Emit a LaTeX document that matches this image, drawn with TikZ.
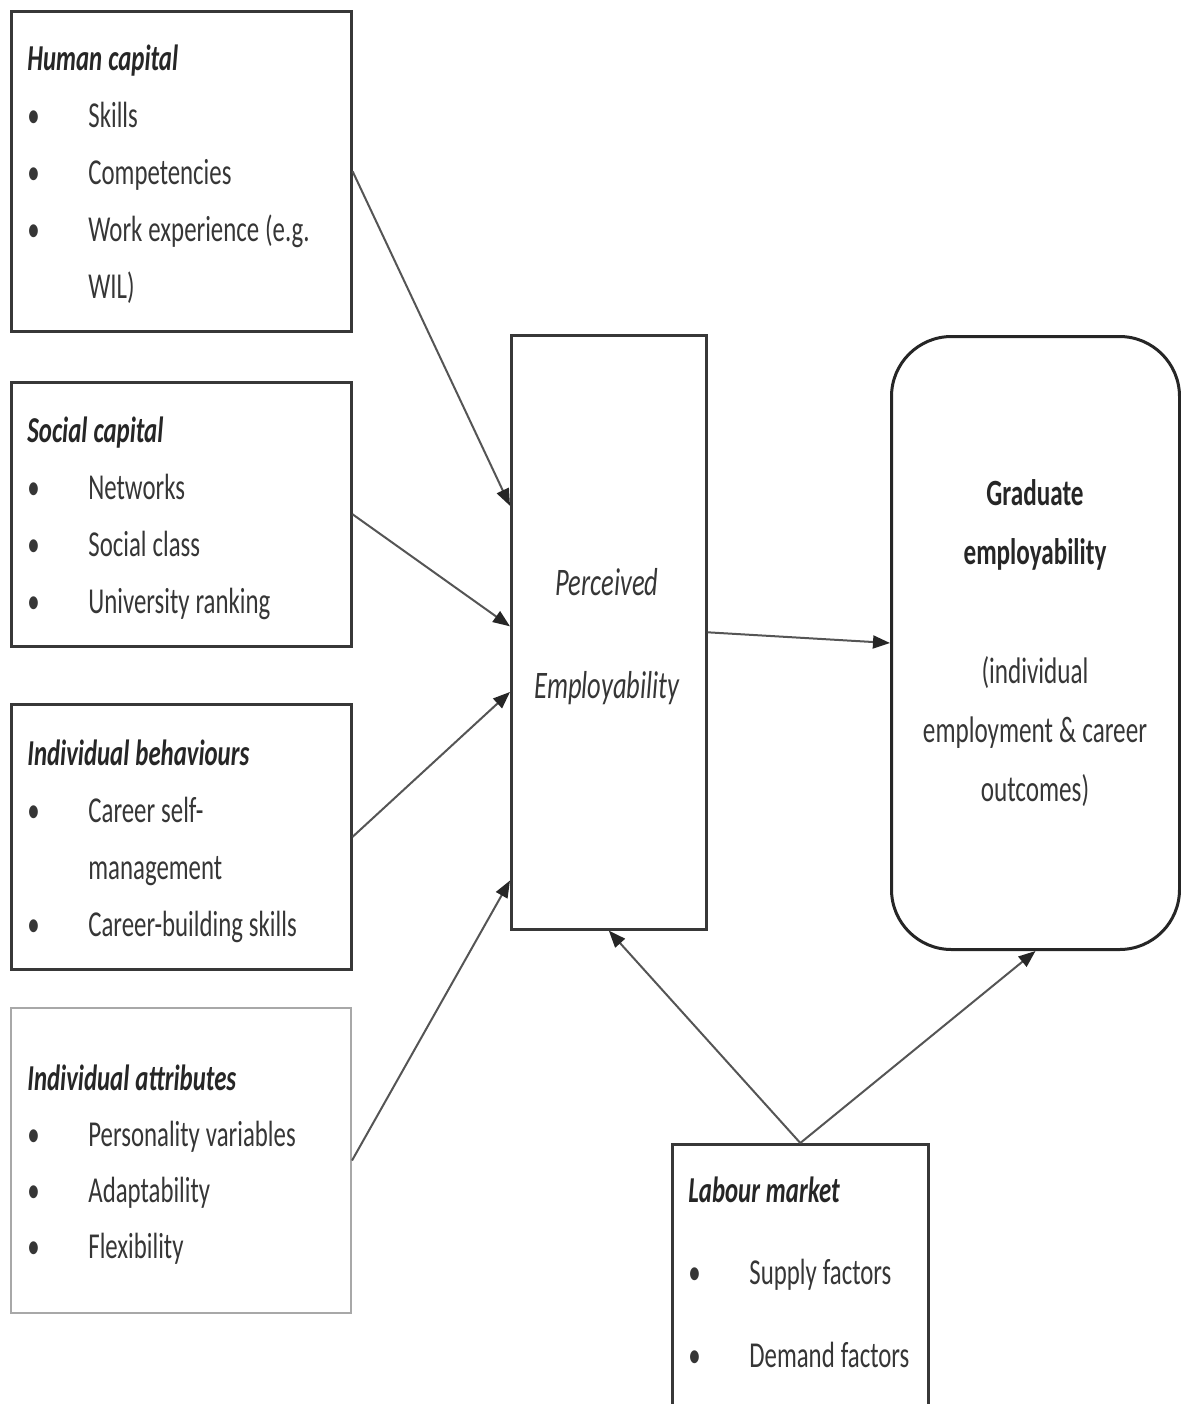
\documentclass[tikz,border=0pt]{standalone}
\usepackage{fontspec}
\setmainfont[FakeStretch=0.68]{Carlito}
\usepackage{xcolor}
\usetikzlibrary{calc, arrows.meta}
\definecolor{framegray}{HTML}{383838}
\definecolor{lightframe}{HTML}{A8A8A8}
\definecolor{textgray}{HTML}{363636}
\definecolor{linegray}{HTML}{555555}
\newcommand{\bitem}[1]{\makebox[30.5pt][l]{\textbullet}#1}
\newcommand{\bcont}[1]{\hspace*{30.5pt}#1}
\newcommand{\btitle}[1]{{\color{black!85}\bfseries\itshape #1}}
\newcommand{\narrow}{\spaceskip=3pt plus 1pt minus 0.5pt\relax}
\tikzset{
  fac_box/.style = {draw=framegray, line width=1.3pt, anchor=north west,
    inner sep=0pt, minimum width=170pt},% cadre des facteurs
  fac_txt/.style = {anchor=base west, inner sep=0pt, text width=160pt,
    align=flush left, text=textgray, font=\fontsize{18.25}{28.5}\selectfont,
    execute at begin node=\narrow},% texte des facteurs
  pe_box/.style = {draw=framegray, line width=1.3pt, anchor=north west,
    inner sep=0pt, minimum width=97.5pt, minimum height=297pt},% perceived
  ge_box/.style = {draw=black!85, line width=1.5pt, anchor=north west,
    inner sep=0pt, minimum width=144pt, minimum height=306.5pt,
    rounded corners=30pt},% graduate
  mid_txt/.style = {anchor=base, inner sep=0pt, text width=135pt,
    align=flush center, text=textgray, execute at begin node=\narrow},
  link/.style = {draw=linegray, line width=1pt,
    -{Triangle[length=8.5pt, width=6.5pt, color=black!85]}}
}
\begin{document}
\begin{tikzpicture}[x=0.5pt, y=-0.5pt]
\useasboundingbox (0,0) rectangle (1181,1404);

% facteurs a gauche
\node[fac_box, minimum height=160pt] (b1) at (10,10) {};
\node[fac_txt] (t1) at (27,70) {\btitle{Human capital}\\
  \bitem{Skills}\\ \bitem{Competencies}\\ \bitem{Work experience (e.g.}\\ \bcont{WIL)}};

\node[fac_box, minimum height=132pt] (b2) at (10,381) {};
\node[fac_txt] (t2) at (27,442) {\btitle{Social capital}\\
  \bitem{Networks}\\ \bitem{Social class}\\ \bitem{University ranking}};

\node[fac_box, minimum height=132.5pt] (b3) at (10,703) {};
\node[fac_txt] (t3) at (27,765) {\btitle{Individual behaviours}\\
  \bitem{Career self-}\\ \bcont{management}\\ \bitem{Career-building skills}};

\node[fac_box, draw=lightframe, line width=1pt, minimum height=152.5pt] (b4) at (10,1007) {};
\node[fac_txt, font=\fontsize{18.25}{28}\selectfont] (t4) at (27,1090) {\btitle{Individual attributes}\\
  \bitem{Personality variables}\\ \bitem{Adaptability}\\ \bitem{Flexibility}};

% centre et droite
\node[pe_box] (pe) at (510,334) {};
\node[mid_txt, font=\fontsize{19.5}{51.5}\selectfont\itshape] (pt) at (607,595) {Perceived\\ Employability};

\node[ge_box] (ge) at (890,335) {};
\node[mid_txt, font=\fontsize{18.5}{29.5}\selectfont] (gt) at (1035,505)
  {{\color{black!85}\bfseries Graduate\\ employability}\\[30pt]
   (individual\\ employment \& career\\ outcomes)};

% marche du travail
\node[fac_box, minimum width=128pt, minimum height=140pt] (lm) at (671,1143) {};
\node[fac_txt, text width=120pt] (lt) at (688,1202) {\btitle{Labour market}\\[12.5pt]
  \bitem{Supply factors}\\[13pt] \bitem{Demand factors}};

% fleches
\draw[link] (b1.east) -- ($(pe.north west)!0.288!(pe.south west)$);
\draw[link] (b2.east) -- ($(pe.north west)!0.49!(pe.south west)$);
\draw[link] (b3.east) -- ($(pe.north west)!0.6!(pe.south west)$);
\draw[link] (b4.east) -- ($(pe.north west)!0.916!(pe.south west)$);
\draw[link] (pe.east) -- (ge.west);
\draw[link] (lm.north) -- (pe.south);
\draw[link] (lm.north) -- (ge.south);
\end{tikzpicture}
\end{document}
